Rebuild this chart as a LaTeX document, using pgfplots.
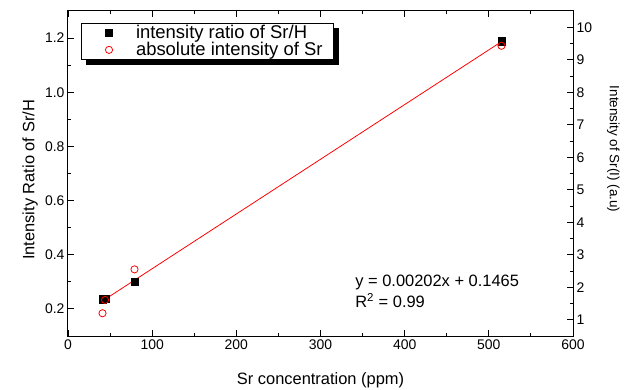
\documentclass[border=0pt]{standalone}
\usepackage{fontspec}
\setmainfont{Liberation Sans}
\usepackage{pgfplots}
\pgfplotsset{compat=1.18}
\usetikzlibrary{backgrounds}

\begin{document}
\begin{tikzpicture}
\path[use as bounding box] (-68bp,-54bp) rectangle (557bp,336bp);
\pgfplotsset{
  every axis/.append style={
    scale only axis, width=505bp, height=325bp, at={(0,0)}, anchor=south west,
    xmin=0, xmax=600,
    tick align=inside,
    major tick length=6bp, minor tick length=3.5bp,
    axis line style={line width=1bp, black},
    every tick/.style={line width=0.9bp, black},
    /pgf/number format/assume math mode=true,
    tick label style={font=\fontsize{14}{16}\selectfont},
  },
}
\begin{axis}[
  ymin=0.1, ymax=1.3,
  xtick={0,100,200,300,400,500,600}, minor x tick num=1,
  ytick={0.2,0.4,0.6,0.8,1.0,1.2}, minor y tick num=1,
  ytick pos=left,
  yticklabel style={/pgf/number format/.cd, fixed, fixed zerofill, precision=1},
  xlabel={Sr concentration (ppm)}, ylabel={Intensity Ratio of Sr/H},
  xlabel style={font=\fontsize{16.5}{18}\selectfont, at={(axis description cs:0.5,-0.135)}, anchor=center},
  ylabel style={font=\fontsize{16.5}{18}\selectfont, at={(axis description cs:-0.075,0.48)}, anchor=center},
]
\addplot[only marks, mark=square*, mark size=3.7bp, black] coordinates {
  (41,0.236) (45,0.238) (79,0.300) (515,1.189)
};
\addplot[red, line width=0.8bp, no marks] coordinates {(40,0.2273) (515,1.1868)};
\node[anchor=east, font=\fontsize{16.5}{18}\selectfont] (eq) at (rel axis cs:0.9,0.166) {y = 0.00202x + 0.1465};
\node[anchor=west, font=\fontsize{16.5}{18}\selectfont] at (eq.west |- {rel axis cs:0,0.108}) {R\textsuperscript{2} = 0.99};
\end{axis}

\begin{axis}[
  ymin=0.5, ymax=10.5,
  axis y line*=right, axis x line=none,
  tick align=inside,
  ytick={1,2,3,4,5,6,7,8,9,10}, minor y tick num=1,
  ylabel={Intensity of Sr(I) (a.u)},
  ylabel style={font=\fontsize{13.5}{15}\selectfont, at={(axis description cs:1.08,0.575)}, anchor=center, rotate=180},
  legend style={name=leg, at={(rel axis cs:0.025,0.964)}, anchor=north west, draw=black, line width=0.8bp, fill=white,
    font=\fontsize{18.5}{21}\selectfont, inner xsep=6bp, inner ysep=1.5bp,
    nodes={inner ysep=1bp, inner xsep=5bp}, cells={anchor=west}},
]
\addlegendimage{only marks, mark=square*, mark size=3.7bp, black,
  legend image code/.code={\pgfpathrectangle{\pgfpoint{0bp}{-3bp}}{\pgfpoint{44bp}{6bp}}\pgfusepath{discard}\draw[black, fill=black, only marks, mark=square*, mark size=3.7bp] plot coordinates {(22bp,0bp)};}}
\addlegendentry{intensity ratio of Sr/H}
\addplot[only marks, mark=o, mark size=3.6bp, red, line width=0.8bp,
  legend image code/.code={\pgfpathrectangle{\pgfpoint{0bp}{-3bp}}{\pgfpoint{44bp}{6bp}}\pgfusepath{discard}\draw[red, only marks, mark=o, mark size=3.6bp, line width=0.8bp] plot coordinates {(22bp,0bp)};}] coordinates {
  (41,1.2) (44,1.61) (79,2.55) (515,9.43)
};
\addlegendentry{absolute intensity of Sr}
\end{axis}
\begin{scope}[on background layer]
\fill[black] ([xshift=5bp,yshift=-5bp]leg.south west) rectangle ([xshift=5bp,yshift=-5bp]leg.north east);
\end{scope}
\end{tikzpicture}
\end{document}
